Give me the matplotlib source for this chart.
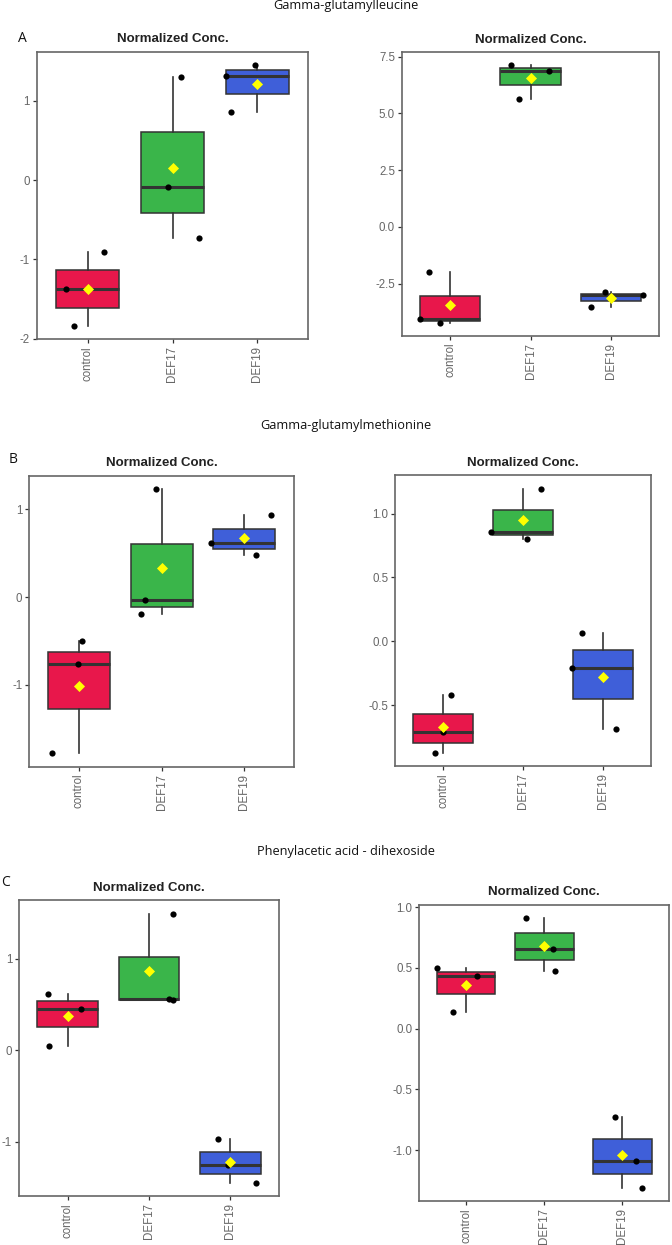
import numpy as np
import matplotlib
matplotlib.use("Agg")
import matplotlib.pyplot as plt

# grupos y colores
grupos = ["control", "DEF17", "DEF19"]
colores = ["#E8174B", "#3AB54A", "#3F5FD9"]

# valores (3 réplicas por grupo)
a1_vals = [[-1.84, -1.37, -0.90], [-0.73, -0.09, 1.29], [0.86, 1.31, 1.45]]
a1_jit = [[-0.165, -0.25, 0.19], [0.31, -0.05, 0.10], [-0.31, -0.365, -0.03]]
a1_ticks = [-2, -1, 0, 1]
a1_labels = ["-2", "-1", "0", "1"]

a2_vals = [[-4.22, -4.06, -1.98], [5.64, 6.87, 7.12], [-3.53, -3.01, -2.88]]
a2_jit = [[-0.13, -0.37, -0.26], [-0.15, 0.23, -0.25], [-0.25, 0.40, -0.075]]
a2_ticks = [-2.5, 0.0, 2.5, 5.0, 7.5]
a2_labels = ["-2.5", "0.0", "2.5", "5.0", "7.5"]

b1_vals = [[-1.78, -0.76, -0.496], [-0.195, -0.034, 1.23], [0.48, 0.618, 0.93]]
b1_jit = [[-0.32, -0.016, 0.04], [-0.25, -0.20, -0.07], [0.14, -0.40, 0.32]]
b1_ticks = [-1, 0, 1]
b1_labels = ["-1", "0", "1"]

b2_vals = [[-0.874, -0.713, -0.424], [0.802, 0.859, 1.196], [-0.689, -0.211, 0.068]]
b2_jit = [[-0.10, 0.0, 0.10], [0.05, -0.40, 0.22], [0.17, -0.385, -0.255]]
b2_ticks = [-0.5, 0.0, 0.5, 1.0]
b2_labels = ["-0.5", "0.0", "0.5", "1.0"]

c1_vals = [[0.043, 0.453, 0.612], [0.550, 0.554, 1.49], [-1.45, -1.26, -0.967]]
c1_jit = [[-0.23, 0.16, -0.246], [0.295, 0.24, 0.295], [0.32, -0.03, -0.15]]
c1_ticks = [-1, 0, 1]
c1_labels = ["-1", "0", "1"]

c2_vals = [[0.141, 0.434, 0.497], [0.475, 0.66, 0.91], [-1.31, -1.09, -0.724]]
c2_jit = [[-0.17, 0.14, -0.37], [0.135, 0.11, -0.24], [0.25, 0.18, -0.10]]
c2_ticks = [-1.0, -0.5, 0.0, 0.5, 1.0]
c2_labels = ["-1.0", "-0.5", "0.0", "0.5", "1.0"]

cabeceras = ["Gamma-glutamylleucine", "Gamma-glutamylmethionine",
             "Phenylacetic acid - dihexoside"]
letras = ["A", "B", "C"]

W, H = 672, 1245
fig = plt.figure(figsize=(W / 100, H / 100), dpi=100)


def nuevo_eje(left, right, top, bottom):
    return fig.add_axes([left / W, 1 - bottom / H, (right - left) / W, (bottom - top) / H])


def dibujar_caja(ax, vals, jit, ticks, labels):
    pos = np.arange(1, len(grupos) + 1)
    bp = ax.boxplot(vals, positions=pos, widths=0.75, whis=1.5, patch_artist=True,
                    showfliers=False, showcaps=False,
                    medianprops=dict(color="#333333", linewidth=2.2),
                    whiskerprops=dict(color="#333333", linewidth=1.2),
                    boxprops=dict(edgecolor="#333333", linewidth=1.1))
    for caja, c in zip(bp["boxes"], colores):
        caja.set_facecolor(c)
    for i, (v, j) in enumerate(zip(vals, jit)):
        ax.scatter(pos[i] + np.array(j), v, s=20, color="black", zorder=4, linewidths=0)
    medias = [np.mean(v) for v in vals]
    ax.scatter(pos, medias, marker="D", s=32, color="#FFFF00", zorder=5, linewidths=0)

    todos = np.concatenate(vals)
    rango = todos.max() - todos.min()
    ax.set_ylim(todos.min() - 0.05 * rango, todos.max() + 0.05 * rango)
    ax.set_xlim(0.4, 3.6)
    ax.set_xticks(pos)
    ax.set_xticklabels(grupos, rotation=90, fontsize=8.3, color="#666666")
    ax.set_yticks(ticks)
    ax.set_yticklabels(labels, fontsize=8.3, color="#666666")
    ax.tick_params(length=3, width=0.9, color="#333333", pad=2)
    for s in ax.spines.values():
        s.set_color("#666666")
        s.set_linewidth(1.2)
    ax.set_title("Normalized Conc.", fontsize=9.5, fontweight="bold", color="#222222", pad=7)


plt.rcParams["font.family"] = ["Liberation Sans", "DejaVu Sans"]

paneles = [
    ((36.7, 308.3, 51.7, 339.3), a1_vals, a1_jit, a1_ticks, a1_labels),
    ((402.0, 659.3, 52.3, 335.7), a2_vals, a2_jit, a2_ticks, a2_labels),
    ((29.3, 294.0, 475.7, 766.7), b1_vals, b1_jit, b1_ticks, b1_labels),
    ((395.3, 650.7, 475.3, 766.0), b2_vals, b2_jit, b2_ticks, b2_labels),
    ((19.0, 279.0, 900.3, 1196.3), c1_vals, c1_jit, c1_ticks, c1_labels),
    ((419.3, 669.3, 904.7, 1201.3), c2_vals, c2_jit, c2_ticks, c2_labels),
]

for caja_px, vals, jit, ticks, labels in paneles:
    ax = nuevo_eje(*caja_px)
    dibujar_caja(ax, vals, jit, ticks, labels)

# cabeceras de cada fila y letras de panel
cab_y = [6, 426, 852]
letra_xy = [(22, 38), (13, 460), (5, 883)]
for texto, y, letra, (lx, ly) in zip(cabeceras, cab_y, letras, letra_xy):
    fig.text(346 / W, 1 - y / H, texto, ha="center", va="center", fontsize=9.2,
             family=["Open Sans", "DejaVu Sans"], color="#111111")
    fig.text(lx / W, 1 - ly / H, letra, ha="center", va="center", fontsize=10,
             family=["Open Sans", "DejaVu Sans"], color="#111111")

fig.savefig("out.png", dpi=100)
